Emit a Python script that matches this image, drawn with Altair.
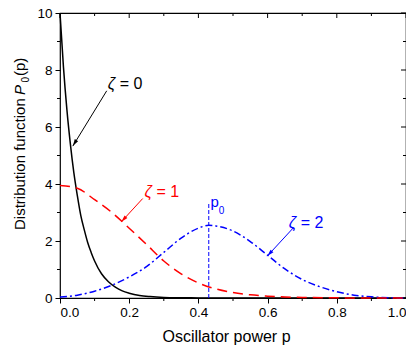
import math
import altair as alt
import pandas as pd

# ---------------- data ----------------
p_z0 = [0.0, 0.01, 0.02, 0.03, 0.04, 0.05, 0.06, 0.07, 0.08, 0.09, 0.10, 0.12, 0.14,
        0.16, 0.18, 0.20, 0.23, 0.26, 0.30, 0.35, 0.40, 0.50, 0.60, 0.70, 0.80, 0.90, 1.00]
v_z0 = [10.0, 8.1, 6.6, 5.4, 4.4, 3.6, 2.9, 2.4, 1.95, 1.6, 1.3, 0.85, 0.57,
        0.38, 0.25, 0.17, 0.09, 0.05, 0.02, 0.008, 0.003, 0.0, 0.0, 0.0, 0.0, 0.0, 0.0]

p_z1 = [0.0, 0.05, 0.10, 0.15, 0.20, 0.25, 0.30, 0.35, 0.40, 0.45, 0.50, 0.55,
        0.60, 0.65, 0.70, 0.80, 0.90, 1.00]
v_z1 = [3.95, 3.85, 3.45, 3.0, 2.45, 1.88, 1.3, 0.85, 0.53, 0.32, 0.19, 0.11,
        0.065, 0.035, 0.02, 0.005, 0.0, 0.0]

p_z2 = [0.0, 0.05, 0.10, 0.15, 0.20, 0.25, 0.30, 0.35, 0.40, 0.43, 0.45, 0.50,
        0.55, 0.60, 0.65, 0.70, 0.75, 0.80, 0.85, 0.90, 0.95, 1.00]
v_z2 = [0.03, 0.10, 0.24, 0.45, 0.74, 1.10, 1.60, 2.10, 2.45, 2.55, 2.53, 2.35,
        1.98, 1.50, 1.02, 0.65, 0.40, 0.22, 0.10, 0.04, 0.01, 0.0]

p0_x = [0.43]
p0_y0 = [0.0]
p0_y1 = [3.32]

x_major = [0.0, 0.2, 0.4, 0.6, 0.8, 1.0]
x_minor = [0.1, 0.3, 0.5, 0.7, 0.9]
y_major = [0, 2, 4, 6, 8, 10]
y_minor = [1, 3, 5, 7, 9]

zeta_x = [0.138, 0.244, 0.661]
zeta_y = [7.35, 3.54, 2.47]
zeta_val = ["= 0", "= 1", "= 2"]
zeta_col = ["black", "red", "blue"]

arrow_tail_x = [0.135, 0.239, 0.675]
arrow_tail_y = [7.27, 3.49, 2.47]
arrow_tip_x = [0.037, 0.177, 0.599]
arrow_tip_y = [5.33, 2.67, 1.47]

p0_lab_txt = ["p", "0"]
p0_lab_x = [0.435, 0.459]
p0_lab_y = [3.19, 2.94]
p0_lab_size = [15, 10]

# ---------------- layout ----------------
W, H = 346, 285
FONT = "Liberation Sans"
XS = alt.Scale(domain=[0, 1], nice=False, zero=False)
YS = alt.Scale(domain=[0, 10], nice=False, zero=False)

df0 = pd.DataFrame({"p": p_z0, "v": v_z0})
df1 = pd.DataFrame({"p": p_z1, "v": v_z1})
df2 = pd.DataFrame({"p": p_z2, "v": v_z2})

x_axis = alt.Axis(values=x_major, format=".1f", title="Oscillator power p",
                  titleFontSize=16, titleFontWeight="normal", titleFont=FONT,
                  titleX=166, titleY=43, titleBaseline="alphabetic", titleColor="black",
                  labelFontSize=13.5, labelFont=FONT, labelColor="black",
                  tickSize=5, tickColor="black", tickWidth=1, labelPadding=2,
                  domain=False, grid=False)
y_axis = alt.Axis(values=y_major, format="d", title="",
                  labelFontSize=13.5, labelFont=FONT, labelColor="black",
                  tickSize=5, tickColor="black", tickWidth=1, labelPadding=3,
                  domain=False, grid=False)

line0 = alt.Chart(df0).mark_line(color="black", strokeWidth=1.5, interpolate="monotone").encode(
    x=alt.X("p:Q", scale=XS, axis=x_axis),
    y=alt.Y("v:Q", scale=YS, axis=y_axis),
)
line1 = alt.Chart(df1).mark_line(color="#ff0000", strokeWidth=1.5, strokeDash=[10, 6],
                                 interpolate="monotone").encode(
    x=alt.X("p:Q"), y=alt.Y("v:Q"))
line2 = alt.Chart(df2).mark_line(color="#0000ff", strokeWidth=1.5, strokeDash=[7, 3, 2, 3],
                                 interpolate="monotone").encode(
    x=alt.X("p:Q"), y=alt.Y("v:Q"))

p0_df = pd.DataFrame({"p": p0_x, "v": p0_y0, "b": p0_y1})
p0_line = alt.Chart(p0_df).mark_rule(color="#0000ff", strokeWidth=1, strokeDash=[4, 2]).encode(
    x=alt.X("p:Q"), y=alt.Y("v:Q"), y2="b:Q")

# ticks drawn on the frame (top/right inward, minors)
def vticks(vals, y0, y1):
    return alt.Chart(pd.DataFrame({"p": vals})).mark_rule(color="black", strokeWidth=1).encode(
        x=alt.X("p:Q"), y=alt.value(y0), y2=alt.value(y1))

def hticks(vals, x0, x1):
    return alt.Chart(pd.DataFrame({"v": vals})).mark_rule(color="black", strokeWidth=1).encode(
        y=alt.Y("v:Q"), x=alt.value(x0), x2=alt.value(x1))

ticks = [
    vticks(x_major, 0, 5), vticks(x_minor, 0, 3), vticks(x_minor, H, H + 3),
    hticks(y_major, W - 5, W), hticks(y_minor, W - 3, W), hticks(y_minor, -3, 0),
]

# annotations
zdf = pd.DataFrame({"p": zeta_x, "v": zeta_y, "t": zeta_val, "c": zeta_col})
zeta_sym = alt.Chart(zdf).mark_text(text="ζ", font=FONT, fontSize=16, fontStyle="italic",
                                    align="left", baseline="alphabetic").encode(
    x=alt.X("p:Q"), y=alt.Y("v:Q"), color=alt.Color("c:N", scale=None))
zeta_txt = alt.Chart(zdf).mark_text(font=FONT, fontSize=16, align="left",
                                    baseline="alphabetic", dx=12).encode(
    x=alt.X("p:Q"), y=alt.Y("v:Q"), text="t:N", color=alt.Color("c:N", scale=None))

angles = []
for tx, ty, hx, hy in zip(arrow_tail_x, arrow_tail_y, arrow_tip_x, arrow_tip_y):
    dxp = (hx - tx) * W
    dyp = -(hy - ty) * H / 10.0
    angles.append((math.degrees(math.atan2(dxp, -dyp)) + 360) % 360)
adf = pd.DataFrame({"p": arrow_tail_x, "v": arrow_tail_y, "p2": arrow_tip_x, "v2": arrow_tip_y,
                    "c": zeta_col, "ang": angles})
arrow_line = alt.Chart(adf).mark_rule(strokeWidth=1).encode(
    x=alt.X("p:Q"), y=alt.Y("v:Q"), x2="p2:Q", y2="v2:Q", color=alt.Color("c:N", scale=None))
arrow_head = alt.Chart(adf).mark_point(shape="M0,0L-0.55,2L0.55,2Z", filled=True, size=49,
                                       opacity=1, strokeWidth=0).encode(
    x=alt.X("p2:Q"), y=alt.Y("v2:Q"),
    angle=alt.Angle("ang:Q", scale=None), color=alt.Color("c:N", scale=None))

pdf = pd.DataFrame({"p": p0_lab_x, "v": p0_lab_y, "t": p0_lab_txt, "s": p0_lab_size})
p0_text = alt.Chart(pdf).mark_text(font=FONT, color="#0000ff", align="left",
                                   baseline="alphabetic").encode(
    x=alt.X("p:Q"), y=alt.Y("v:Q"), text="t:N", size=alt.Size("s:Q", scale=None))

# y-axis title built from pieces (italic P, subscript 0)
def ytitle(txt, ypos, xpos, size, style="normal"):
    return alt.Chart(pd.DataFrame({"d": [0]})).mark_text(
        text=txt, font=FONT, fontSize=size, fontStyle=style, angle=270,
        align="left", baseline="alphabetic", color="black").encode(
        x=alt.value(xpos), y=alt.value(ypos))

ytitles = [
    ytitle("Distribution function", 217, -35, 15),
    ytitle("P", 82, -35, 15, "italic"),
    ytitle("0", 69.5, -31, 10),
    ytitle("(p)", 63, -35, 15),
]

chart = alt.layer(
    line0, *ticks, p0_line, line2, line1, arrow_line, arrow_head,
    zeta_sym, zeta_txt, p0_text, *ytitles
).properties(
    width=W, height=H,
    autosize=alt.AutoSizeParams(type="none"),
    padding={"left": 52, "top": 5, "right": 0, "bottom": 48},
).configure(
    background="white"
).configure_view(
    stroke="black", strokeWidth=1.2
)

chart.save("out.html", embed_options={"renderer": "svg", "actions": False})
